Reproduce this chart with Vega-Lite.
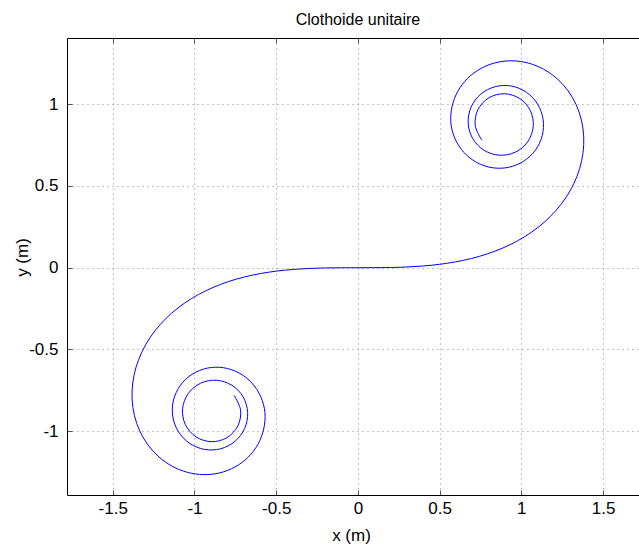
{
  "$schema": "https://vega.github.io/schema/vega-lite/v6.json",
  "width": 572,
  "height": 457,
  "autosize": {"type": "none"},
  "padding": {"left": 67, "top": 38, "right": 0, "bottom": 50},
  "background": "white",
  "config": {"view": {"stroke": null}, "font": "Liberation Sans"},
  "title": {"text": "Clothoide unitaire", "fontSize": 16, "font": "Liberation Sans", "fontWeight": "normal", "color": "black", "anchor": "middle", "offset": 10, "dx": 5},
  "data": {"values": [
    {"s": -6.0, "x": -0.7583, "y": -0.7799},
    {"s": -5.9, "x": -0.7179, "y": -0.8697},
    {"s": -5.8, "x": -0.7343, "y": -0.9669},
    {"s": -5.7, "x": -0.8013, "y": -1.0393},
    {"s": -5.6, "x": -0.8968, "y": -1.0640},
    {"s": -5.5, "x": -0.9909, "y": -1.0343},
    {"s": -5.4, "x": -1.0557, "y": -0.9597},
    {"s": -5.3, "x": -1.0728, "y": -0.8624},
    {"s": -5.2, "x": -1.0384, "y": -0.7697},
    {"s": -5.1, "x": -0.9625, "y": -0.7063},
    {"s": -5.0, "x": -0.8652, "y": -0.6881},
    {"s": -4.9, "x": -0.7711, "y": -0.7187},
    {"s": -4.8, "x": -0.7024, "y": -0.7901},
    {"s": -4.7, "x": -0.6745, "y": -0.8851},
    {"s": -4.6, "x": -0.6926, "y": -0.9825},
    {"s": -4.5, "x": -0.7521, "y": -1.0618},
    {"s": -4.4, "x": -0.8402, "y": -1.1074},
    {"s": -4.3, "x": -0.9393, "y": -1.1111},
    {"s": -4.2, "x": -1.0310, "y": -1.0731},
    {"s": -4.1, "x": -1.0993, "y": -1.0010},
    {"s": -4.0, "x": -1.1332, "y": -0.9077},
    {"s": -3.9, "x": -1.1281, "y": -0.8085},
    {"s": -3.8, "x": -1.0857, "y": -0.7186},
    {"s": -3.7, "x": -1.0130, "y": -0.6508},
    {"s": -3.6, "x": -0.9206, "y": -0.6138},
    {"s": -3.5, "x": -0.8212, "y": -0.6117},
    {"s": -3.4, "x": -0.7270, "y": -0.6437},
    {"s": -3.3, "x": -0.6487, "y": -0.7052},
    {"s": -3.2, "x": -0.5944, "y": -0.7887},
    {"s": -3.1, "x": -0.5689, "y": -0.8850},
    {"s": -3.0, "x": -0.5765, "y": -0.9864},
    {"s": -2.9, "x": -0.6116, "y": -1.0796},
    {"s": -2.8, "x": -0.6720, "y": -1.1589},
    {"s": -2.7, "x": -0.7520, "y": -1.2184},
    {"s": -2.6, "x": -0.8449, "y": -1.2545},
    {"s": -2.5, "x": -0.9441, "y": -1.2654},
    {"s": -2.4, "x": -1.0428, "y": -1.2515},
    {"s": -2.3, "x": -1.1355, "y": -1.2145},
    {"s": -2.2, "x": -1.2173, "y": -1.1574},
    {"s": -2.1, "x": -1.2847, "y": -1.0837},
    {"s": -2.0, "x": -1.3352, "y": -0.9976},
    {"s": -1.9, "x": -1.3676, "y": -0.9032},
    {"s": -1.8, "x": -1.3817, "y": -0.8043},
    {"s": -1.7, "x": -1.3777, "y": -0.7045},
    {"s": -1.6, "x": -1.3570, "y": -0.6068},
    {"s": -1.5, "x": -1.3210, "y": -0.5137},
    {"s": -1.4, "x": -1.2714, "y": -0.4269},
    {"s": -1.3, "x": -1.2102, "y": -0.3479},
    {"s": -1.2, "x": -1.1393, "y": -0.2775},
    {"s": -1.1, "x": -1.0604, "y": -0.2161},
    {"s": -1.0, "x": -0.9753, "y": -0.1637},
    {"s": -0.9, "x": -0.8854, "y": -0.1201},
    {"s": -0.8, "x": -0.7919, "y": -0.0847},
    {"s": -0.7, "x": -0.6958, "y": -0.0569},
    {"s": -0.6, "x": -0.5981, "y": -0.0359},
    {"s": -0.5, "x": -0.4992, "y": -0.0208},
    {"s": -0.4, "x": -0.3997, "y": -0.0107},
    {"s": -0.3, "x": -0.2999, "y": -0.0045},
    {"s": -0.2, "x": -0.2000, "y": -0.0013},
    {"s": -0.1, "x": -0.1000, "y": -0.0002},
    {"s": 0.0, "x": 0.0, "y": 0.0},
    {"s": 0.1, "x": 0.1000, "y": 0.0002},
    {"s": 0.2, "x": 0.2000, "y": 0.0013},
    {"s": 0.3, "x": 0.2999, "y": 0.0045},
    {"s": 0.4, "x": 0.3997, "y": 0.0107},
    {"s": 0.5, "x": 0.4992, "y": 0.0208},
    {"s": 0.6, "x": 0.5981, "y": 0.0359},
    {"s": 0.7, "x": 0.6958, "y": 0.0569},
    {"s": 0.8, "x": 0.7919, "y": 0.0847},
    {"s": 0.9, "x": 0.8854, "y": 0.1201},
    {"s": 1.0, "x": 0.9753, "y": 0.1637},
    {"s": 1.1, "x": 1.0604, "y": 0.2161},
    {"s": 1.2, "x": 1.1393, "y": 0.2775},
    {"s": 1.3, "x": 1.2102, "y": 0.3479},
    {"s": 1.4, "x": 1.2714, "y": 0.4269},
    {"s": 1.5, "x": 1.3210, "y": 0.5137},
    {"s": 1.6, "x": 1.3570, "y": 0.6068},
    {"s": 1.7, "x": 1.3777, "y": 0.7045},
    {"s": 1.8, "x": 1.3817, "y": 0.8043},
    {"s": 1.9, "x": 1.3676, "y": 0.9032},
    {"s": 2.0, "x": 1.3352, "y": 0.9976},
    {"s": 2.1, "x": 1.2847, "y": 1.0837},
    {"s": 2.2, "x": 1.2173, "y": 1.1574},
    {"s": 2.3, "x": 1.1355, "y": 1.2145},
    {"s": 2.4, "x": 1.0428, "y": 1.2515},
    {"s": 2.5, "x": 0.9441, "y": 1.2654},
    {"s": 2.6, "x": 0.8449, "y": 1.2545},
    {"s": 2.7, "x": 0.7520, "y": 1.2184},
    {"s": 2.8, "x": 0.6720, "y": 1.1589},
    {"s": 2.9, "x": 0.6116, "y": 1.0796},
    {"s": 3.0, "x": 0.5765, "y": 0.9864},
    {"s": 3.1, "x": 0.5689, "y": 0.8850},
    {"s": 3.2, "x": 0.5944, "y": 0.7887},
    {"s": 3.3, "x": 0.6487, "y": 0.7052},
    {"s": 3.4, "x": 0.7270, "y": 0.6437},
    {"s": 3.5, "x": 0.8212, "y": 0.6117},
    {"s": 3.6, "x": 0.9206, "y": 0.6138},
    {"s": 3.7, "x": 1.0130, "y": 0.6508},
    {"s": 3.8, "x": 1.0857, "y": 0.7186},
    {"s": 3.9, "x": 1.1281, "y": 0.8085},
    {"s": 4.0, "x": 1.1332, "y": 0.9077},
    {"s": 4.1, "x": 1.0993, "y": 1.0010},
    {"s": 4.2, "x": 1.0310, "y": 1.0731},
    {"s": 4.3, "x": 0.9393, "y": 1.1111},
    {"s": 4.4, "x": 0.8402, "y": 1.1074},
    {"s": 4.5, "x": 0.7521, "y": 1.0618},
    {"s": 4.6, "x": 0.6926, "y": 0.9825},
    {"s": 4.7, "x": 0.6745, "y": 0.8851},
    {"s": 4.8, "x": 0.7024, "y": 0.7901},
    {"s": 4.9, "x": 0.7711, "y": 0.7187},
    {"s": 5.0, "x": 0.8652, "y": 0.6881},
    {"s": 5.1, "x": 0.9625, "y": 0.7063},
    {"s": 5.2, "x": 1.0384, "y": 0.7697},
    {"s": 5.3, "x": 1.0728, "y": 0.8624},
    {"s": 5.4, "x": 1.0557, "y": 0.9597},
    {"s": 5.5, "x": 0.9909, "y": 1.0343},
    {"s": 5.6, "x": 0.8968, "y": 1.0640},
    {"s": 5.7, "x": 0.8013, "y": 1.0393},
    {"s": 5.8, "x": 0.7343, "y": 0.9669},
    {"s": 5.9, "x": 0.7179, "y": 0.8697},
    {"s": 6.0, "x": 0.7583, "y": 0.7799}
  ]},
  "layer": [
    {
      "mark": {"type": "line", "color": "#0000ff", "strokeWidth": 1, "interpolate": "catmull-rom", "clip": true},
      "encoding": {
        "x": {"field": "x", "type": "quantitative",
          "scale": {"domain": [-1.78, 1.72], "nice": false, "zero": false},
          "axis": {"orient": "bottom", "values": [-1.5, -1, -0.5, 0, 0.5, 1, 1.5],
            "labelExpr": "datum.value < 0 ? '-' + (-datum.value) : '' + datum.value",
            "grid": true, "gridDash": [1, 4], "gridColor": "#888888", "gridWidth": 1,
            "domainColor": "black", "domainWidth": 1,
            "ticks": true, "tickSize": -5, "tickColor": "#555555", "tickWidth": 1,
            "labelFont": "Liberation Sans", "labelFontSize": 17, "labelColor": "black", "labelPadding": 10, "labelFlush": false,
            "title": "x (m)", "titleFont": "Liberation Sans", "titleFontSize": 17, "titleFontWeight": "normal", "titleColor": "black",
            "titleX": 284, "titleY": 40, "titleBaseline": "middle"}},
        "y": {"field": "y", "type": "quantitative",
          "scale": {"domain": [-1.39, 1.405], "nice": false, "zero": false},
          "axis": {"orient": "left", "values": [-1, -0.5, 0, 0.5, 1],
            "labelExpr": "datum.value < 0 ? '-' + (-datum.value) : '' + datum.value",
            "grid": true, "gridDash": [1, 4], "gridColor": "#888888", "gridWidth": 1,
            "domainColor": "black", "domainWidth": 1,
            "ticks": true, "tickSize": -5, "tickColor": "#555555", "tickWidth": 1,
            "labelFont": "Liberation Sans", "labelFontSize": 17, "labelColor": "black", "labelPadding": 14, "labelFlush": false,
            "title": "y (m)", "titleFont": "Liberation Sans", "titleFontSize": 17, "titleFontWeight": "normal", "titleColor": "black",
            "titleX": -45, "titleY": 219, "titleBaseline": "middle"}},
        "order": {"field": "s", "type": "quantitative"}
      }
    },
    {
      "mark": {"type": "point", "opacity": 0},
      "encoding": {
        "x": {"field": "x", "type": "quantitative",
          "axis": {"orient": "top", "values": [-1.5, -1, -0.5, 0, 0.5, 1, 1.5], "labels": false, "grid": false, "title": null,
            "domainColor": "black", "domainWidth": 1, "ticks": true, "tickSize": -5, "tickColor": "#555555"}},
        "y": {"field": "y", "type": "quantitative", "axis": null}
      }
    }
  ],
  "resolve": {"axis": {"x": "independent", "y": "independent"}}
}
